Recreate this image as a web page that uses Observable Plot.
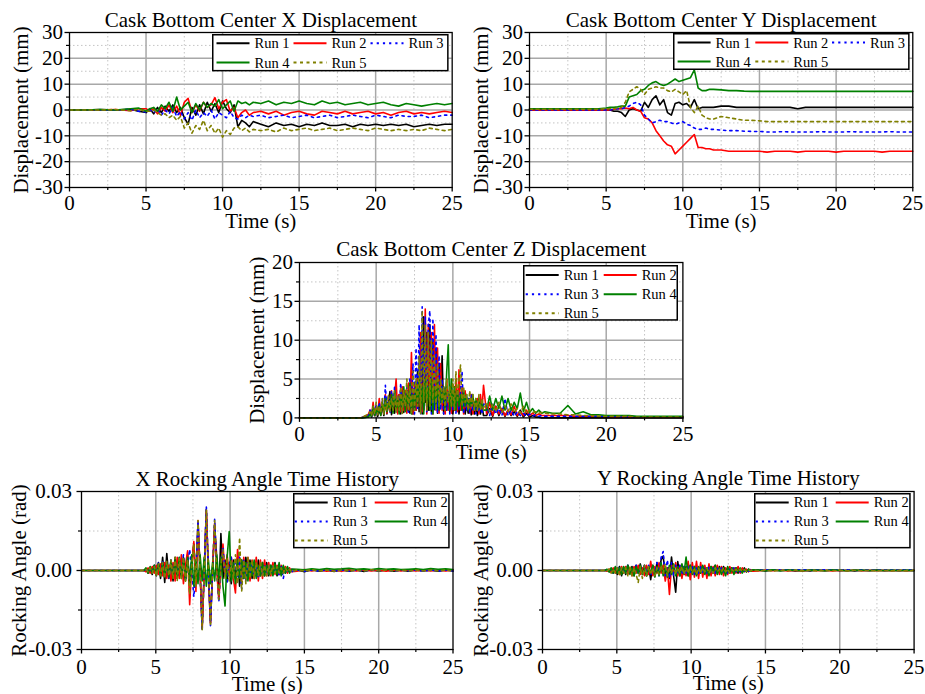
<!DOCTYPE html>
<html><head><meta charset="utf-8">
<script src="https://cdn.jsdelivr.net/npm/d3@7"></script>
<script src="https://cdn.jsdelivr.net/npm/@observablehq/plot@0.6"></script>
<style>
body{margin:0;background:#fff;}
#root{position:relative;width:925px;height:694px;overflow:hidden;background:#fff;font-family:"Liberation Serif","Times New Roman",serif;}
.panel{position:absolute;}
.legend{position:absolute;overflow:visible;}
</style></head><body><div id="root"></div>
<script>
// ---------------- data ----------------
const runs = ["Run 1","Run 2","Run 3","Run 4","Run 5"];
const xTicks = [0,5,10,15,20,25];
const xMinorTicks = [2.5,7.5,12.5,17.5,22.5];

// Panels 1 & 2 : time (s)
const tXY = [0,1,2,3,4,4.5,5,5.25,5.5,5.75,6,6.25,6.5,6.75,7,7.25,7.5,7.75,8,8.25,8.5,8.75,9,9.25,9.5,9.75,10,10.25,10.5,10.75,11,11.25,11.5,11.75,12,12.5,13,13.5,14,14.5,15,15.5,16,16.5,17,17.5,18,18.5,19,19.5,20,20.5,21,21.5,22,22.5,23,23.5,24,24.5,25];
// X displacement (mm)
const xRun1 = [0,0,0.2,0,0.3,-0.5,-1, 0.5,-1.5,1,-1,1.5,-0.5,2,-1,1,-3,-5.5,1,-2,2,-1.5,3,-0.5,2.5,-1,3.5,0.5,-1,2,-6.5,-4,-5,-6.5,-4.5, -5.5,-6.5,-5,-6,-5.5,-6.5,-5.5,-6,-5,-6,-6,-5.5,-6.5,-5.5,-6,-5.5,-6,-5.5,-6,-5.5,-6.5,-6,-5.5,-6,-5.5,-5.5];
const xRun2 = [0,0,0,0.2,-0.3,0.5,0.5, -0.5,0.5,-1.5,1,-0.5,2,-1,1.5,-2,3,4.5,-1,2,-0.5,3,1,2,4.8,0.5,3,4,-0.5,1,-3,-1,0,-2,-1, -0.5,-1.5,-0.5,-2,-1,-0.5,-1.5,-2,-0.5,-1,-1.5,-0.5,-1.5,-1,-0.5,-1.5,-1,-2,-1,-0.5,-1.5,-1,-1.5,-1,-0.5,-1];
const xRun3 = [0,0,0,0,0.3,-0.5,-0.8, 0,-1,0.5,-2,0,-1.5,1,-2.5,-0.5,-3.5,-1,-4,0,-3,-1,-2.5,0,-3.5,-1,-2,-3,-0.5,-3,-3.5,-2,-3,-2,-2.5, -2,-3,-2.5,-2,-3,-2.5,-2,-3,-2.5,-2,-3,-2.5,-2,-2.5,-3,-2,-2.5,-3,-2,-2.5,-2.5,-2,-3,-2.5,-2,-2];
const xRun4 = [0,0,0.2,0,0.5,0.8,-0.5, 0.5,1,-0.5,2,0.5,3,-0.5,5,0,1.5,3,-1,2.5,0,3,1,2.5,1.5,4,0.5,2,3.5,-0.5,3.5,2.5,3,2,3, 2.5,3.5,2,3,2.5,3.5,2.5,2,3.5,2.5,3,2,2.5,3,2,2.5,3,2,1.5,2.5,2,1.5,2,2.5,2,2.5];
const xRun5 = [0,0,0,0.2,-0.3,0.3,-0.5, -0.5,0,-1,-2,-1.5,-3,-2,-4,-2.5,-7,-5,-9,-6,-7.5,-4,-8,-6,-9,-7,-10.5,-8,-9.5,-7,-6.5,-8,-7,-8.5,-7.5, -8,-7.5,-8.5,-7,-8,-7.5,-7,-8,-7.5,-7,-8,-7.5,-7,-7.5,-8,-7,-7.5,-8,-7.5,-8,-7.5,-8,-7,-7.5,-8,-7.5];
// Y displacement (mm)
const yRun1 = [0,0,0,0,0,0,0, 0,-0.5,-0.5,-1,-2.5,0,0.5,0,-0.5,3,1,4,5.5,2,4,-1,-2,2.5,3,2,2.5,1,4,0.5,1,1,1,1, 1.5,1.5,1,1,1,1,1,1,1,1,0.5,1,1,1,1,1,1,1,1,1,1,1,1,1,1,1];
const yRun2 = [0,0,0,0,0,0,0, 0,0.3,0.5,0.5,0.8,0.5,1,0,-0.5,-3,-3.5,-5,-8,-10,-12,-13.5,-14,-17,-15.5,-14,-12.5,-11,-9.5,-14.5,-14.5,-15,-15,-15.5, -15.5,-16,-16,-16,-16,-16,-16.3,-16,-16,-16,-16.3,-16,-16,-16,-16,-16.3,-16,-16,-16,-16,-16,-16.3,-16,-16,-16,-16];
const yRun3 = [0,0,0,0,0,0,0, 0,0.3,0.5,0.5,1,1.5,2.5,3,2,-2,-3.5,-5,-4.5,-4,-4.5,-4.5,-5,-5.5,-5,-4.5,-5.5,-6,-7,-7.5,-7.5,-7,-7.5,-7.5, -7.8,-8,-8,-8.2,-8.3,-8.3,-8.5,-8.5,-8.4,-8.5,-8.5,-8.5,-8.5,-8.4,-8.5,-8.5,-8.5,-8.4,-8.5,-8.5,-8.5,-8.5,-8.4,-8.5,-8.5,-8.5];
const yRun4 = [0.5,0.5,0.5,0.5,0.5,0.5,0.8, 1,1,1.2,1.5,1.5,5,5.5,6,7.5,8,9.5,10.5,11,10,9.5,10,11,12,11,11.5,12,12.5,15.5,8.5,7.5,7.5,8,8, 7.8,7.5,7.5,7.3,7.2,7.2,7.2,7.2,7.2,7.2,7.2,7.2,7.2,7.2,7.2,7.2,7.2,7.2,7.2,7.2,7.2,7.2,7.2,7.2,7.2,7.2];
const yRun5 = [0.3,0.3,0.3,0.3,0.3,0.3,0.5, 0.5,0.5,0.8,1,3,7,8,9,8,6,8,8.5,9,8.5,8.5,7.5,7,8,7,6,7.5,1,-1,1.5,-2,-3,-3.5,-3.5, -2.5,-3,-3.5,-4,-4,-4.2,-4.5,-4.5,-4.5,-4.5,-4.5,-4.5,-4.5,-4.5,-4.5,-4.5,-4.5,-4.5,-4.5,-4.5,-4.5,-4.5,-4.5,-4.5,-4.5,-4.5];

// Panel 3 : time (s) and Z displacement (mm)
const tZ = [0,4,4.4,
  4.5,4.6,4.7,4.8,4.9,5,5.1,5.2,5.3,5.4,5.5,5.6,5.7,5.8,5.9,6,6.1,6.2,6.3,6.4,6.5,6.6,6.7,6.8,6.9,7,7.1,7.2,7.3,7.4,7.5,7.6,7.7,7.8,7.9,8,8.1,8.2,8.3,8.4,8.5,8.6,8.7,8.8,8.9,9,9.1,9.2,9.3,9.4,9.5,9.6,9.7,9.8,9.9,10,10.1,10.2,10.3,10.4,10.5,10.6,10.7,10.8,10.9,11,11.1,11.2,11.3,11.4,11.5,11.6,11.7,11.8,11.9,12,
  12.2,12.4,12.6,12.8,13,13.2,13.4,13.6,13.8,14,14.2,14.4,14.6,14.8,15,15.2,15.4,15.6,15.8,16,
  16.5,17,17.5,18,18.5,19,19.5,20,20.5,21,21.5,22,22.5,23,23.5,24,24.5,25];
const zRun1 = [0,0,0.1,
  0.2,0.8,0.1,1.2,0.3,1.5,0.2,1,0.4,1.8, 0.3,2.5,0.5,2,3.4,0.4,2.5,0.6,2,0.8, 3,0.5,2.5,0.7,3.5,1,3,0.6,4,0.5, 3,1,6,0.8,9,0.5,13,2,11,1, 12,0.8,10,1.5,9,0.6,7,2,8,0.5, 3,1,2.5,0.8,3.5,0.5,2.5,1,3,0.5, 2.5,1,2,0.5,1.8,0.6,2,0.4,1.5,0.5, 1.5,0.3,1.2,0.5,1.5,0.3,
  0.3,1.2,0.2,1.5,0.3,1.2,0.2,1,0.3,0.8,0.2,1,0.1,0.6,0.1,0.3,0.1,0.1,0,0,
  0,0,0,0,0,0,0,0,0,0,0,0,0,0,0,0,0,0];
const zRun2 = [0,0,0.3,
  0.5,1,0.2,2,0.3,1.5,0.5,2.5,0.4,1.8, 0.5,3,0.6,2,1,3.5,0.8,2.5,5,0.5, 3,0.8,4,1,3.5,0.6,4.5,1,8.4,0.5, 4.5,1,5,1.5,11,0.8,1,14,0.5,12, 1,11,0.5,12,1,9,0.6,7,1,4, 0.5,5,1,4,0.6,3,1,5,0.8,6.2, 1,4,0.5,3.5,1,2.5,0.6,3,0.5,2, 1,2.5,0.5,3,1,4.2,
  0.5,2,0.3,1.5,0.5,1.2,0.3,1,0.4,1.5,0.3,0.8,0.3,1,0.3,0.6,0.3,0.5,0.3,0.3,
  0.3,0.3,0.3,0.2,0.2,0.2,0.2,0.2,0.1,0.1,0.1,0.1,0.1,0.1,0.1,0.1,0.1,0.1];
const zRun3 = [0,0,0.2,
  0.3,1,0.2,1.5,0.5,1.8,0.3,2,0.6,2.5, 0.5,4.2,1,3,0.5,3.5,1,4,0.6,3, 1,4.5,0.8,3.5,1.5,4,0.5,5,1,7, 0.5,9,1,12,0.5,14.3,1,13,0.8,12, 13.8,0.5,12.8,1,10.8,0.6,8,1,5,0.5, 4,1,3.5,0.5,4,1,3,0.6,3,1, 3.5,6,0.5,3,1,2.5,0.5,3,0.8,2, 0.5,2,0.8,1.5,0.5,2,
  1.5,0.3,1.8,0.5,1.2,0.3,2.5,0.3,1,0.2,0.8,0.3,0.6,0.2,0.5,0.2,0.4,0.2,0.3,0.2,
  0.2,0.2,0.2,0.2,0.2,0.2,0.2,0.2,0.2,0.1,0.1,0.1,0.1,0.1,0.1,0.1,0.1,0.1];
const zRun4 = [0,0,0.1,
  0.1,0.5,0.2,1.5,0.3,1,0.5,1.5,0.3,2, 0.5,2.5,0.8,2,1,3,0.6,3.5,1,2.5, 0.5,3,1,4,0.8,3.5,1,4.5,0.5,3, 1,4.5,1.5,5,1,4,0.5,5,1.5,4, 1,5,0.5,4,1.5,5,1,3.5,2,4, 1,6,9.4,1,5,1.5,4,1,3.5,1.5, 3,1,3.5,1.5,3,1,2.5,1.5,3,1, 2.5,1,2.5,1.2,2,1,
  1,2.8,1,2.5,1.2,2.8,1,2.5,1,2,1.2,3.2,0.8,2,0.7,1.2,0.6,1,0.6,0.8,
  0.6,0.6,1.6,0.5,0.8,0.4,0.4,0.3,0.3,0.3,0.3,0.2,0.2,0.2,0.2,0.2,0.2,0.2];
const zRun5 = [0,0,0.4,
  0.4,0.8,0.3,1.5,0.5,2,0.4,1.5,0.6,2.5, 0.5,2,1,3,0.8,2.5,1,3.5,0.6,3, 1,4,0.5,3.5,1.5,5,1,4,0.5,6, 1,5,1.5,8,0.5,13.8,2,12,1,11, 1.5,10,2,8,1,7,1.5,5,2,4, 1,5,2,4,1.5,5,1,6,2,5, 6.8,1.5,4,2,3,1,3.5,1.5,3,1, 2.5,1,3,1,2.5,1,
  2,0.8,1.8,0.8,2,0.7,1.5,0.8,1.8,0.7,1.2,0.6,1.5,0.6,1,0.7,0.8,0.6,0.7,0.6,
  0.5,0.5,0.4,0.4,0.3,0.3,0.2,0.2,0.2,0.2,0.2,0.1,0.1,0.1,0.1,0.1,0.1,0.1];

// Panels 4 & 5 : time (s) and rocking angle (milliradian)
const tRock = [0,4, 4.2,4.34,4.48,4.62,4.76,4.9,5.04,5.18,5.32,5.46,5.6,5.74,5.88,6.02,6.16,6.3,6.44,6.58,6.72,6.86,7,7.14,7.28,7.42,7.56,7.7,7.84,7.98,8.12,8.26,8.4,8.54,8.68,8.82,8.96,9.1,9.24,9.38,9.52,9.66,9.8,9.94,10.08,10.22,10.36,10.5,10.64,10.78,10.92,11.06,11.2,11.34,11.48,11.62,11.76,11.9,12.04,12.18,12.32,12.46,12.6,12.74,12.88,13.02,13.16,13.3,13.44,13.58,13.72,13.86,14,14.14, 14.5,15,15.5,16,16.5,17,17.5,18,18.5,19,19.5,20,20.5,21,21.5,22,22.5,23,23.5,24,24.5,25];
const rxRun1 = [0,0, 0,0.5,-1,1,-1.5,2,-2,3,-3,5, -4.5,6.4,-3,4,-4,5,-3,4,-2,5, -3,6,-5,3,10,-5,18,0,-22,0, 23,-2,-20,0,17,5,-10,14,-3,4, -4,3,-5,4,-3,5,-6,4,-3,5, -2,4,-3,3,-2,4,-2,3,-2,3, -2,2,-1.5,3,-2,2,-1.5,1,-1,1, -0.5,0.5, 0.3,-0.5,0.3,-0.3,0.2,-0.4,0.3,-0.3,0.2,-0.4,0.3,-0.3,0.2,-0.3,0.2,-0.3,0.2,-0.2,0.2,-0.3,0.2,-0.2];
const rxRun2 = [0,0, 0,-0.5,1,-1,1.5,-1,2,-1.5,2.5,-2, 3,-3,2,-4,3,-4,5,-3,6,-5, 2,7.5,-13,2,11,-8,19,0,-22,0, 23,0,-20,0,18,0,-11,0,10,-2, 6,-2,5,-3,-8.5,8,3,-4,5,-3, 5,-4,4,-3,5,-4,4,-3,4,-2, 3,-2,3,-1.5,2,-1.5,2,-1,1.5,-1, 1,-0.5, -0.3,0.4,-0.2,0.3,-0.3,0.2,-0.3,0.3,-0.2,0.3,-0.2,0.2,-0.3,0.2,-0.2,0.3,-0.2,0.2,-0.2,0.2,-0.2,0.2];
const rxRun3 = [0,0, 0,0.5,-0.5,1,-1,2,-1.5,3,-2,3.5, -2.5,3,-3,4,-2,4,-3,5,-2,6, -4,2,8,0,-10,0,19,0,-23,0, 24.5,0,-21,0,19.5,0,-12,2,9,-1, -5,2,5,-2,3,-3,5,-7,4,-4, 3,-2,3,-2,2,-3,2,-1.5,2,-1.5, 2,-1,1.5,-1,2,-2,1.5,-3,1,-1, 0.5,-0.5, 0.2,-0.3,0.2,-0.2,0.3,-0.2,0.2,-0.3,0.2,-0.2,0.2,-0.2,0.3,-0.2,0.2,-0.2,0.2,-0.3,0.2,-0.2,0.2,-0.2];
const rxRun4 = [0,0, 0,1,-1,1.5,-1,2,-1.5,2.5,-2,3, -2,3,-2.5,3.5,-3,4,-3,5,-3,4.5, -4,5,-5,6,-6,4,-5,6,-4,5, -6,4,-5,3,-4,6,-3,5,-6,-13.5, 5,14.8,-4,3,-5,4,-3,4,-3,3, -4,3,-2,4,-3,2,-2,3,-2,2, -1.5,2,-2,2.5,-1.5,3,-2,2,-1,1.5, -1,0.5, 0.5,0.3,0.6,0.4,0.7,0.5,0.6,0.8,0.5,0.6,0.4,0.7,0.5,0.6,0.4,0.5,0.6,0.4,0.7,0.5,0.6,0.4];
const rxRun5 = [0,0, 0,0.5,-0.5,1,-1,1.5,-2,2.5,-2,3, -3,3.5,-2,4,-3,5,-4,4.5,-3,5, -4,4,-9,2,10,-6,19,0,-22.5,0, 23,0,-20.5,0,19,0,-11,2,8,-3, 5,-4,4,-3,6,-5,12.5,-7.8,4,-5, 5,-3,4,-3,3,-2,3,-2,2,-2, 2,-1.5,2,-1,1.5,-1,1,-1,1,-0.5, 0.5,-0.5, 0.2,-0.2,0.3,-0.2,0.2,-0.3,0.2,-0.2,0.2,-0.2,0.3,-0.2,0.2,-0.2,0.2,-0.2,0.2,-0.2,0.2,-0.2,0.2,-0.2];
const ryRun1 = [0,0, 0,0.3,-0.5,0.8,-1,1,-1.5,1.5,-2,1, -1.5,2,-1,1.5,-2,2,-1,2.5,-1.5,2, -2,1.5,-3.5,2,-2,3,-1.5,4,5.5,-2, 1,-3,5.1,-2,-8.2,3.4,-2,2,-1.5,1.5, -2,2,-1,1.5,-1.5,1,-1,1.5,-1,1, -1.5,1.5,-1,2,-1,1.5,-1,1.5,-0.5,1, -1,1,-0.5,1,-1,0.5,-0.5,1,-0.5,0.5, -0.3,0.3, 0.2,-0.2,0.2,-0.1,0.2,-0.2,0.1,-0.2,0.2,-0.1,0.2,-0.1,0.1,-0.2,0.1,-0.1,0.2,-0.1,0.1,-0.1,0.1,-0.1];
const ryRun2 = [0,0, 0,-0.3,0.5,-0.8,1,-1,1,-1.5,1.5,-1, 1.5,-1.5,1,-2,1.5,-1,2,-1.5,1,-2, 2,-1.5,3.5,-2,1.5,-1,3,-1,2,-4, 1,-9.1,2,-1,3,-2,2,-3,1.5,-2, 3.5,-3.5,3,-2.5,3.5,-3,3,-2.5,2,-3, 2.5,-2,1.5,-2,2,-1.5,1.5,-2,1,-1.5, 1.5,-1,1,-1,1.5,-1,1,-0.5,0.5,-0.5, 0.3,-0.3, -0.2,0.2,-0.1,0.2,-0.2,0.1,-0.2,0.2,-0.1,0.1,-0.2,0.1,-0.1,0.2,-0.1,0.1,-0.1,0.1,-0.1,0.1,-0.1,0.1];
const ryRun3 = [0,0, 0,0.3,-0.3,0.5,-1,1,-0.5,1.5,-1,1, -1.5,2,-1,1.5,-1,2,-1.5,1.5,-1,2, -1,2,-2,1.5,-1,3,-2,5,7.2,-2, 4,-3,3,-2,2,-1.5,2,-1.5,1.5,-1, 2,-1,1.5,-1.5,1,-1,1.5,-1,1,-1, 1.5,-0.5,1,-1,1,-0.5,1,-0.5,0.5,-1, 0.5,-0.5,1,-0.5,0.5,-0.5,0.5,-0.3,0.3,-0.3, 0.2,0.2, 0.3,0.2,0.3,0.2,0.3,0.3,0.2,0.3,0.2,0.3,0.3,0.2,0.3,0.2,0.3,0.3,0.2,0.3,0.2,0.3,0.3,0.2];
const ryRun4 = [0,0, 0,0.5,-0.5,1,-1,1.5,-1,1,-1.5,1.5, -1,2,-1.5,1,-2,1.5,-1,2,-1.5,1, -2,1.5,-1,2,-2.5,1.5,-2,3,-2,1.5, -2.5,2,-1.5,2.5,-2,1.5,-2,2.5,-1,5.1, -2,2,-1.5,1.5,-2,1.5,-1,2,-1.5,1, -2,1.5,-1,2,-1.5,1,-1.5,1,-2,1.5, -1,1,-1.5,1,-0.5,1,-1,0.5,-0.5,0.5, -0.3,0.3, 0.2,-0.1,0.3,-0.1,0.2,0.1,-0.1,0.2,0.1,-0.1,0.2,0.1,-0.1,0.2,0.1,0,0.1,0,0.1,0,0.1,0];
const ryRun5 = [0,0, 0,-0.3,0.5,-1,0.5,-1,1,-1.5,1,-1, 1,-2,1.5,-2,1,-1.5,-4.6,1.5,-3,2, -2,1.5,-1.5,1,-2,1,-1.5,2,-1,2.5, -2,1.5,-1,2,-1.5,1,-1,1.5,-1.5,1, -1,1.5,-1,1,-1.5,1,-1,1,-0.5,1, -1,0.5,-1,1,-0.5,0.5,-0.5,1,-0.5,0.5, -1,0.5,-0.5,0.5,-0.5,0.5,-0.3,0.3,-0.3,0.3, -0.2,0.2, -0.1,0.1,-0.2,0.1,-0.1,0.1,-0.1,0.1,-0.2,0.1,-0.1,0.1,-0.1,0.1,-0.1,0.1,-0.1,0.1,-0.1,0.1,-0.1,0.1];

// ---------------- styles ----------------
const colors = ["#000000","#ff0000","#0000ff","#008000","#808000"];
const dashes = [null,null,"2.2,4",null,"3,3.5"];
const FONT = "'Liberation Serif','Times New Roman',serif";

const root = document.getElementById("root");
const ML = 75, MR = 10, MT = 35, MB = 50;

function panel(cfg) {
  const rows = cfg.series.map((vals, i) => {
    if (vals.length !== cfg.t.length) throw new Error(cfg.title + " run " + (i+1) + " length " + vals.length + " vs " + cfg.t.length);
    return cfg.t.map((tt, j) => ({t: tt, v: vals[j] * cfg.k}));
  });
  const marks = [
    Plot.gridX(xMinorTicks, {stroke: "#c4c4c4", strokeOpacity: 1, strokeWidth: 1, strokeDasharray: "1.5,2.5"}),
    Plot.gridY(cfg.yMinor, {stroke: "#c4c4c4", strokeOpacity: 1, strokeWidth: 1, strokeDasharray: "1.5,2.5"}),
    Plot.gridX([5,10,15,20], {stroke: "#a8a8a8", strokeOpacity: 1, strokeWidth: 1.5}),
    Plot.gridY(cfg.yGrid, {stroke: "#a8a8a8", strokeOpacity: 1, strokeWidth: 1.5}),
    ...rows.map((r, i) => Plot.lineY(r, {x: "t", y: "v", stroke: colors[i], strokeWidth: 1.6, strokeDasharray: dashes[i]})),
    Plot.frame({stroke: "#000", strokeWidth: 1.3}),
    Plot.axisX(xTicks, {tickSize: 4.5, tickPadding: cfg.xPad, tickFormat: d => String(d), label: null, fontSize: 21, strokeWidth: 1.3}),
    Plot.axisX(xMinorTicks, {tickSize: 3, tickFormat: () => "", label: null, strokeWidth: 1.2}),
    Plot.axisY(cfg.yMajor, {tickSize: 4.5, tickPadding: cfg.yPad, tickFormat: cfg.fmt, label: null, fontSize: 21, strokeWidth: 1.3}),
    Plot.axisY(cfg.yMinor, {tickSize: 3, tickFormat: () => "", label: null, strokeWidth: 1.2}),
    Plot.text([cfg.title], {text: d => d, frameAnchor: "top", dy: -cfg.titleDy, lineAnchor: "bottom", textAnchor: "middle", fontSize: 21}),
    Plot.text(["Time (s)"], {text: d => d, frameAnchor: "bottom", dy: cfg.xlabDy, lineAnchor: "bottom", textAnchor: "middle", fontSize: 21}),
    Plot.text([cfg.ylabel], {text: d => d, frameAnchor: "left", dx: -cfg.ylabDx, rotate: -90, lineAnchor: "middle", textAnchor: "middle", fontSize: 21})
  ];
  const W = cfg.fw + ML + MR, H = cfg.fh + MT + MB;
  const svg = Plot.plot({
    width: W, height: H, marginLeft: ML, marginRight: MR, marginTop: MT, marginBottom: MB,
    x: {domain: [0, 25]}, y: {domain: cfg.ydom},
    style: {background: "transparent", overflow: "visible", fontFamily: FONT, fontSize: "21px", color: "#000", maxWidth: "none"},
    marks
  });
  const div = document.createElement("div");
  div.className = "panel";
  div.style.left = (cfg.fl - ML) + "px";
  div.style.top = (cfg.ft - MT) + "px";
  div.style.width = W + "px";
  div.style.height = H + "px";
  div.appendChild(svg);
  root.appendChild(div);
}

function legend(L) {
  const svg = d3.select(root).append("svg").attr("class", "legend")
    .style("left", L.x + "px").style("top", L.y + "px")
    .attr("width", L.w).attr("height", L.h);
  svg.append("rect").attr("x", 0.75).attr("y", 0.75).attr("width", L.w - 1.5).attr("height", L.h - 1.5)
    .attr("fill", "#fff").attr("stroke", "#000").attr("stroke-width", 1.5);
  runs.forEach((r, i) => {
    const c = i % L.ncol, rr = Math.floor(i / L.ncol);
    const x0 = L.cols[c], y0 = L.rows[rr];
    svg.append("line").attr("x1", x0).attr("x2", x0 + 33).attr("y1", y0).attr("y2", y0)
      .attr("stroke", colors[i]).attr("stroke-width", 2).attr("stroke-dasharray", dashes[i]);
    svg.append("text").attr("x", x0 + 38).attr("y", y0).attr("dy", "0.35em")
      .attr("font-size", 14.5).attr("font-family", FONT).attr("fill", "#000").text(r);
  });
}

const dispFmt = d => String(d);
const rockFmt = d => d.toFixed(2);

panel({fl: 69, ft: 32.3, fw: 382.7, fh: 155, title: "Cask Bottom Center X Displacement", ylabel: "Displacement (mm)",
  ydom: [-30, 30], yMajor: [-30,-20,-10,0,10,20,30], yMinor: [-25,-15,-5,5,15,25], yGrid: [-20,-10,0,10,20], fmt: dispFmt,
  t: tXY, series: [xRun1, xRun2, xRun3, xRun4, xRun5], k: 1, xPad: 3.5, yPad: 2, titleDy: 5, xlabDy: 41, ylabDx: 48});
panel({fl: 529, ft: 32.3, fw: 383.3, fh: 155, title: "Cask Bottom Center Y Displacement", ylabel: "Displacement (mm)",
  ydom: [-30, 30], yMajor: [-30,-20,-10,0,10,20,30], yMinor: [-25,-15,-5,5,15,25], yGrid: [-20,-10,0,10,20], fmt: dispFmt,
  t: tXY, series: [yRun1, yRun2, yRun3, yRun4, yRun5], k: 1, xPad: 3.5, yPad: 2, titleDy: 5, xlabDy: 41, ylabDx: 48});
panel({fl: 299.3, ft: 262.3, fw: 383.4, fh: 155.4, title: "Cask Bottom Center Z Displacement", ylabel: "Displacement (mm)",
  ydom: [0, 20], yMajor: [0,5,10,15,20], yMinor: [2.5,7.5,12.5,17.5], yGrid: [5,10,15], fmt: dispFmt,
  t: tZ, series: [zRun1, zRun2, zRun3, zRun4, zRun5], k: 1, xPad: 3.5, yPad: 2, titleDy: 6, xlabDy: 41, ylabDx: 42});
panel({fl: 81, ft: 490.7, fw: 371.5, fh: 158, title: "X Rocking Angle Time History", ylabel: "Rocking Angle (rad)",
  ydom: [-0.03, 0.03], yMajor: [-0.03, 0, 0.03], yMinor: [-0.015, 0.015], yGrid: [0], fmt: rockFmt,
  t: tRock, series: [rxRun1, rxRun2, rxRun3, rxRun4, rxRun5], k: 0.001, xPad: 5, yPad: 5, titleDy: 6, xlabDy: 41, ylabDx: 62});
panel({fl: 541.7, ft: 490.7, fw: 371.6, fh: 158, title: "Y Rocking Angle Time History", ylabel: "Rocking Angle (rad)",
  ydom: [-0.03, 0.03], yMajor: [-0.03, 0, 0.03], yMinor: [-0.015, 0.015], yGrid: [0], fmt: rockFmt,
  t: tRock, series: [ryRun1, ryRun2, ryRun3, ryRun4, ryRun5], k: 0.001, xPad: 5, yPad: 5, titleDy: 6, xlabDy: 41, ylabDx: 61});

legend({x: 211.7, y: 34.3, w: 236.6, h: 37.4, ncol: 3, cols: [4.5, 81.5, 158.5], rows: [9.3, 28.5]});
legend({x: 672.7, y: 33.3, w: 236.6, h: 37, ncol: 3, cols: [4.6, 82.3, 159], rows: [9.5, 28.5]});
legend({x: 523.3, y: 265, w: 155, h: 55.7, ncol: 2, cols: [2.7, 80.7], rows: [10, 29.3, 48.3]});
legend({x: 293.3, y: 493.3, w: 156.7, h: 55.4, ncol: 2, cols: [1.7, 81.7], rows: [9.4, 28.4, 47.4]});
legend({x: 754, y: 493.3, w: 156.7, h: 55.4, ncol: 2, cols: [1.7, 81.7], rows: [9.4, 28.4, 47.4]});
</script>
</body></html>
